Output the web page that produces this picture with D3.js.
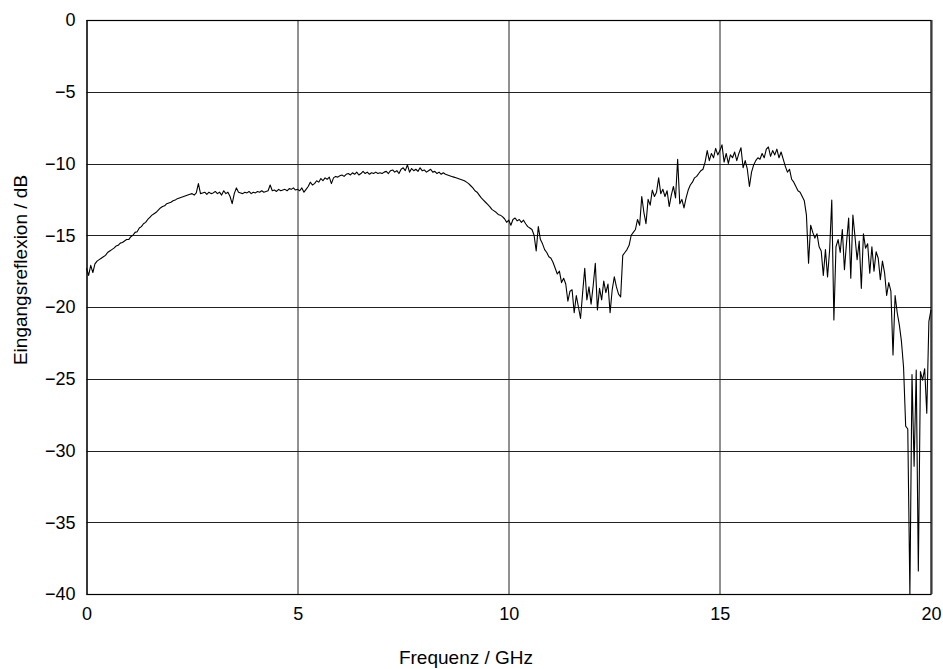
<!DOCTYPE html>
<html>
<head>
<meta charset="utf-8">
<script src="https://cdn.jsdelivr.net/npm/d3@7"></script>
<style>
  body { margin: 0; background: #fff; }
  text { font-family: "Liberation Sans", Arial, sans-serif; }
</style>
</head>
<body>
<div id="vis"></div>
<script>
// measured input reflection, sampled every 0.05 GHz from 0 to 20 GHz
var fStart = 0, fStep = 0.05;
var reflection = [
  -17.3, -17.8, -17.1, -17.6, -17.0, -16.8, -16.7, -16.6, -16.5, -16.4, -16.2, -16.1, -16.0, -15.9, -15.75, -15.7, -15.55, -15.5, -15.4, -15.3,
  -15.3, -15.1, -15.0, -14.8, -14.75, -14.5, -14.4, -14.2, -14.1, -13.9, -13.75, -13.6, -13.5, -13.4, -13.25, -13.1, -13.0, -12.95, -12.8, -12.75,
  -12.7, -12.6, -12.55, -12.45, -12.4, -12.35, -12.3, -12.25, -12.2, -12.15, -12.1, -12.2, -12.05, -11.4, -12.1, -12.05, -12.0, -12.15, -12.0, -12.1,
  -12.05, -11.95, -12.1, -12.0, -12.2, -11.9, -12.1, -12.0, -12.3, -12.8, -12.1, -11.7, -12.0, -12.05, -12.1, -12.0, -12.05, -11.95, -12.1, -12.0,
  -12.05, -11.95, -12.0, -11.9, -12.0, -11.95, -11.9, -11.5, -11.9, -11.85, -11.95, -11.8, -11.9, -11.85, -11.8, -11.9, -11.75, -11.8, -11.7, -11.85,
  -11.8, -11.9, -11.7, -12.0, -11.8, -11.6, -11.3, -11.5, -11.4, -11.2, -11.3, -11.05, -11.2, -11.0, -11.1, -10.95, -11.4, -11.0, -10.9, -10.95,
  -10.85, -10.8, -10.9, -10.75, -10.7, -10.8, -10.65, -10.75, -10.6, -10.8, -10.7, -10.55, -10.7, -10.6, -10.75, -10.65, -10.7, -10.6, -10.7, -10.65,
  -10.7, -10.6, -10.55, -10.7, -10.5, -10.45, -10.6, -10.5, -10.7, -10.4, -10.3, -10.5, -10.1, -10.6, -10.35, -10.5, -10.4, -10.55, -10.3, -10.5,
  -10.45, -10.6, -10.5, -10.4, -10.6, -10.55, -10.7, -10.6, -10.75, -10.65, -10.75, -10.8, -10.85, -10.9, -10.95, -11.0, -11.05, -11.1, -11.15, -11.2,
  -11.3, -11.4, -11.55, -11.7, -11.9, -12.0, -12.2, -12.4, -12.55, -12.7, -12.85, -13.0, -13.2, -13.3, -13.4, -13.55, -13.6, -13.7, -13.85, -14.1,
  -13.95, -14.3, -13.9, -13.8, -14.0, -13.9, -14.1, -13.95, -14.2, -14.4, -14.5, -14.6, -15.0, -16.1, -14.4, -15.3, -15.6, -16.0, -16.2, -16.5,
  -16.6, -16.9, -17.3, -17.7, -17.5, -18.3, -18.0, -18.4, -19.6, -18.9, -18.8, -20.4, -19.2, -20.0, -20.8, -19.0, -17.3, -19.5, -18.6, -19.8,
  -18.5, -16.95, -20.2, -18.7, -19.5, -18.2, -19.0, -18.4, -20.4, -18.8, -17.9, -18.6, -19.1, -19.3, -16.4, -16.2, -16.0, -15.7, -15.0, -14.8,
  -14.6, -13.9, -14.3, -12.3, -13.4, -14.2, -12.5, -12.9, -11.85, -12.3, -12.0, -11.0, -12.1, -11.8, -12.3, -11.9, -13.0, -12.2, -11.6, -12.4,
  -9.7, -12.8, -12.5, -13.1, -12.4, -11.85, -11.5, -11.3, -11.0, -10.9, -10.7, -10.5, -10.4, -9.9, -9.1, -9.8, -9.3, -9.6, -8.95, -9.4,
  -9.1, -8.7, -9.9, -9.3, -10.0, -9.4, -9.6, -9.2, -9.8, -9.3, -8.9, -10.3, -9.8, -10.4, -11.6, -10.6, -10.1, -9.8, -9.6, -9.7,
  -9.3, -9.6, -9.0, -8.85, -9.5, -9.1, -9.4, -9.0, -9.6, -9.2, -9.7, -10.2, -10.6, -10.4, -11.1, -11.3, -11.6, -11.9, -12.0, -12.3,
  -12.6, -13.6, -16.95, -14.3, -14.8, -15.2, -14.9, -15.8, -16.1, -17.8, -16.0, -17.9, -16.0, -12.54, -20.9, -15.8, -15.3, -16.2, -14.6, -17.4,
  -15.5, -13.8, -18.0, -13.6, -15.1, -16.7, -15.4, -18.7, -14.9, -15.9, -15.6, -17.65, -15.8, -17.5, -16.15, -16.6, -18.1, -16.8, -17.6, -19.2,
  -18.3, -18.9, -23.35, -19.2, -20.4, -21.25, -22.4, -24.2, -28.3, -28.5, -40.0, -24.7, -31.1, -24.4, -38.4, -24.5, -25.1, -24.3, -27.4, -21.0,
  -20.2
];
var xTicks = [0, 5, 10, 15, 20];
var yTicks = [0, -5, -10, -15, -20, -25, -30, -35, -40];
var xLabel = 'Frequenz / GHz';
var yLabel = 'Eingangsreflexion / dB';

var margin = { left: 86.5, top: 20, right: 12, bottom: 75 };
var width = 943, height = 669;
var drawWidth = width - margin.left - margin.right;
var drawHeight = height - margin.top - margin.bottom;

var data = reflection.map(function(v, i) {
    return { f: fStart + i * fStep, v: v };
});

var svg = d3.select('#vis').append('svg')
    .attr('width', width)
    .attr('height', height);

var g = svg.append('g')
    .attr('transform', 'translate(' + margin.left + ',' + margin.top + ')');

var xScale = d3.scaleLinear().domain([0, 20]).range([0, drawWidth]);
var yScale = d3.scaleLinear().domain([-40, 0]).range([drawHeight, 0]);

var fmt = function(d) { return d < 0 ? '\u2212' + Math.abs(d) : String(d); };

// grid
g.selectAll('.hgrid').data(yTicks).enter().append('line')
    .attr('x1', 0).attr('x2', drawWidth)
    .attr('y1', function(d) { return Math.round(yScale(d)) + 0.5; })
    .attr('y2', function(d) { return Math.round(yScale(d)) + 0.5; })
    .attr('stroke', '#222').attr('stroke-width', 1);

g.selectAll('.vgrid').data(xTicks).enter().append('line')
    .attr('y1', 0).attr('y2', drawHeight)
    .attr('x1', function(d) { return Math.round(xScale(d)) + 0.5; })
    .attr('x2', function(d) { return Math.round(xScale(d)) + 0.5; })
    .attr('stroke', '#222').attr('stroke-width', 1);

// axes (labels only, the grid does the lines)
var xAxis = d3.axisBottom(xScale).tickValues(xTicks).tickFormat(fmt).tickSize(0).tickPadding(13);
var yAxis = d3.axisLeft(yScale).tickValues(yTicks).tickFormat(fmt).tickSize(0).tickPadding(11);

var xAxisG = g.append('g').attr('transform', 'translate(0,' + drawHeight + ')').call(xAxis);
var yAxisG = g.append('g').call(yAxis);
[xAxisG, yAxisG].forEach(function(a) {
    a.select('.domain').remove();
    a.selectAll('text').attr('font-size', 18).attr('fill', '#000')
        .style('font-family', '"Liberation Sans", Arial, sans-serif');
});

// curve
var line = d3.line()
    .x(function(d) { return xScale(d.f); })
    .y(function(d) { return yScale(d.v); });

g.append('path')
    .datum(data)
    .attr('d', line)
    .attr('fill', 'none')
    .attr('stroke', '#000')
    .attr('stroke-width', 1.1)
    .attr('stroke-linejoin', 'round');

// frame
g.append('rect')
    .attr('x', 0.5).attr('y', 0.5)
    .attr('width', drawWidth - 0.5).attr('height', drawHeight)
    .attr('fill', 'none').attr('stroke', '#000').attr('stroke-width', 1.2);

svg.append('text')
    .attr('x', 466)
    .attr('y', 664)
    .attr('text-anchor', 'middle')
    .attr('font-size', 19)
    .text(xLabel);

svg.append('text')
    .attr('transform', 'translate(27,' + 270 + ') rotate(-90)')
    .attr('text-anchor', 'middle')
    .attr('font-size', 19)
    .text(yLabel);
</script>
</body>
</html>
